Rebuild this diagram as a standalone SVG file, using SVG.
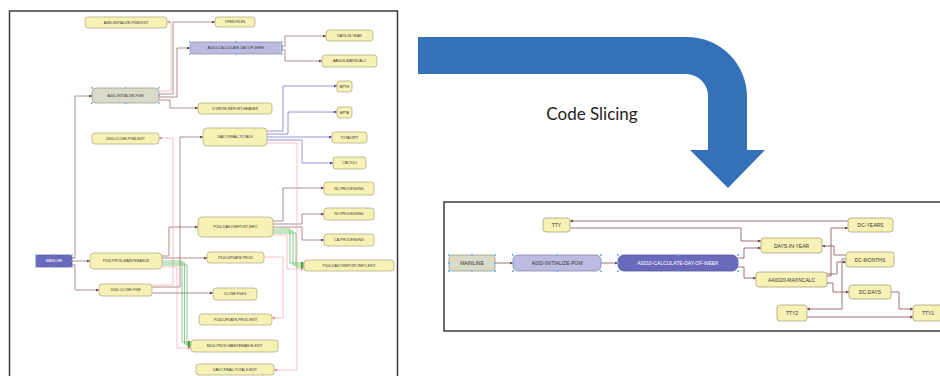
<svg xmlns="http://www.w3.org/2000/svg" width="940" height="376" viewBox="0 0 940 376">
<defs>
<style>
.n rect{fill:#f7f1b6;stroke:#aaa37a;stroke-width:0.7}
.n text,.r text{font-family:"Liberation Sans",Arial,sans-serif;fill:#333;text-anchor:middle;dominant-baseline:central}
.n text{font-size:3.5px}
.r rect{fill:#f7f1b6;stroke:#aaa37a;stroke-width:0.8}
.r text{font-size:5px}
.gray rect{fill:#dadac8;stroke:#9a9a88}
.lav rect{fill:#bcbce3;stroke:#8686ad}
.pur rect{fill:#6a6abd;stroke:#55559a}
.pur text{fill:#fff}
.c path{fill:none;stroke-width:0.65}
#connectors-right path{stroke-width:0.8}
.br{stroke:#86504f;marker-end:url(#ab)}
.pk{stroke:#f3a3ab;marker-end:url(#ap)}
.bl{stroke:#5b5bcf;marker-end:url(#abl)}
.gr{stroke:#4bb04b;marker-end:url(#ag)}
.frame{fill:none;stroke:#3a3a3a;stroke-width:1.5}
.h rect{fill:#6cb6ea}
</style>
<marker id="ab" viewBox="0 0 6 6" refX="6" refY="3" markerWidth="3" markerHeight="3" orient="auto" markerUnits="userSpaceOnUse"><path d="M0,0L6,3L0,6z" fill="#6e3c3c"/></marker>
<marker id="ap" viewBox="0 0 6 6" refX="6" refY="3" markerWidth="3" markerHeight="3" orient="auto" markerUnits="userSpaceOnUse"><path d="M0,0L6,3L0,6z" fill="#e9848e"/></marker>
<marker id="abl" viewBox="0 0 6 6" refX="6" refY="3" markerWidth="3" markerHeight="3" orient="auto" markerUnits="userSpaceOnUse"><path d="M0,0L6,3L0,6z" fill="#4545b8"/></marker>
<marker id="ag" viewBox="0 0 6 6" refX="6" refY="3" markerWidth="3" markerHeight="3" orient="auto" markerUnits="userSpaceOnUse"><path d="M0,0L6,3L0,6z" fill="#339933"/></marker>
</defs>
<rect width="940" height="376" fill="#fff"/>

<!-- frames -->
<rect class="frame" x="9.5" y="11" width="388" height="380"/>
<rect class="frame" x="444" y="202" width="510" height="129" stroke="#555"/>

<!-- big arrow -->
<path d="M418,37 H687 A60,60 0 0 1 747,97 V150 H765 L728,188 L690,150 H708 V96 A22,22 0 0 0 686,74 H418 Z" fill="#3471b8"/>
<text x="592" y="120" font-family="Lato,'Liberation Sans',sans-serif" font-size="17" fill="#222" text-anchor="middle">Code Slicing</text>

<!-- left connectors -->
<g id="connectors-left" class="c">
<path class="br" d="M72,258 H75 V96 H92"/>
<path class="br" d="M72,261 H90"/>
<path class="br" d="M72,265 H75 V290 H99"/>
<path class="br" d="M159,94 H173 V22 H215"/>
<path class="br" d="M159,97 H177 V48 H190"/>
<path class="br" d="M159,100 H170 V108 H198"/>
<path class="br" d="M282,46 H285 V36 H326"/>
<path class="br" d="M282,50 H285 V61 H322"/>
<path class="br" d="M152,287 H180 V137 H203"/>
<path class="br" d="M152,293 H213"/>
<path class="br" d="M162,256 H169 V227 H198"/>
<path class="br" d="M162,258 H207"/>
<path class="br" d="M273,221 H283 V188 H324"/>
<path class="br" d="M273,224 H302 V214 H324"/>
<path class="br" d="M273,227 H302 V240 H324"/>
<path class="pk" d="M159,91 H171 V22 H167"/>
<path class="pk" d="M152,285 H173 V138 H159"/>
<path class="pk" d="M162,267 H177 V348 H191"/>
<path class="pk" d="M264,257 H283 V318 H272"/>
<path class="pk" d="M273,235 H287 V269 H304"/>
<path class="pk" d="M267,143 H297 V370 H274"/>
<path class="bl" d="M267,131 H283 V86 H337"/>
<path class="bl" d="M267,134 H288 V112 H337"/>
<path class="bl" d="M267,137 H332"/>
<path class="bl" d="M267,140 H302 V163 H333"/>
<path class="gr" d="M162,261 H182 V342 H191"/>
<path class="gr" d="M162,263 H184.5 V344 H191"/>
<path class="gr" d="M162,265 H187 V346 H191"/>
<path class="gr" d="M273,229 H290 V263 H304"/>
<path class="gr" d="M273,231 H293 V265 H304"/>
<path class="gr" d="M273,233 H296 V267 H304"/>
</g>

<!-- left nodes -->
<g id="L-a080-exit" class="n"><rect x="85" y="17" width="82" height="11" rx="3"/><text x="126" y="22.5">A080-INITIALIZE-PGM-EXIT</text></g>
<g id="L-open-files" class="n"><rect x="215" y="17" width="40" height="10" rx="3"/><text x="235" y="22">OPEN FILES</text></g>
<g id="L-a0010" class="n lav"><rect x="190" y="42" width="92" height="12" rx="3"/><text x="236" y="48">A0010-CALCULATE-DAY-OF-WEEK</text></g>
<g id="L-days-in-year" class="n"><rect x="326" y="30" width="47" height="11" rx="3"/><text x="349.5" y="35.5">DAYS-IN-YEAR</text></g>
<g id="L-aa0020" class="n"><rect x="322" y="55" width="55" height="12" rx="3"/><text x="349.5" y="61">AA0020-MAXNCALC</text></g>
<g id="L-a000" class="n gray"><rect x="92" y="88" width="67" height="15" rx="4"/><text x="125.5" y="95.5">A000-INITIALIZE-PGM</text></g>
<g id="L-vwrite" class="n"><rect x="198" y="103" width="74" height="11" rx="3"/><text x="235" y="108.5">V-WRITE-REPORT-HEADER</text></g>
<g id="L-bpth" class="n"><rect x="337" y="81" width="15" height="11" rx="2.5"/><text x="344.5" y="86.5">BPTH</text></g>
<g id="L-bpta" class="n"><rect x="337" y="107" width="15" height="11" rx="2.5"/><text x="344.5" y="112.5">BPTA</text></g>
<g id="L-2000-exit" class="n"><rect x="92" y="133" width="67" height="11" rx="3"/><text x="125.5" y="138.5">2000-CLOSE-PGM-EXIT</text></g>
<g id="L-dft" class="n"><rect x="203" y="128" width="64" height="18" rx="4"/><text x="235" y="137">DAILY-FINAL-TOTALS</text></g>
<g id="L-totalrpt" class="n"><rect x="332" y="132" width="35" height="11" rx="3"/><text x="349.5" y="137.5">TOTALRPT</text></g>
<g id="L-cbltoli" class="n"><rect x="333" y="157" width="33" height="12" rx="3"/><text x="349.5" y="163">CBLTOLI</text></g>
<g id="L-nc" class="n"><rect x="324" y="182" width="50" height="13" rx="3"/><text x="349" y="188.5">NC-PROCESSING</text></g>
<g id="L-ny" class="n"><rect x="324" y="208" width="50" height="12" rx="3"/><text x="349" y="214">NY-PROCESSING</text></g>
<g id="L-ca" class="n"><rect x="324" y="234" width="50" height="12" rx="3"/><text x="349" y="240">CA-PROCESSING</text></g>
<g id="L-p100-dri" class="n"><rect x="198" y="217" width="75" height="20" rx="4"/><text x="235.5" y="227">P100-DAILY-REPORT-INFO</text></g>
<g id="L-mainline" class="n pur"><rect x="36" y="255" width="36" height="12" rx="2"/><text x="54" y="261">MAINLINE</text></g>
<g id="L-p100-pm" class="n"><rect x="90" y="253" width="72" height="16" rx="4"/><text x="126" y="261">P100-PROD-MAINTENANCE</text></g>
<g id="L-2000" class="n"><rect x="99" y="284" width="53" height="12" rx="3"/><text x="125.5" y="290">2000-CLOSE-PGM</text></g>
<g id="L-p100-up" class="n"><rect x="207" y="252" width="57" height="11" rx="3"/><text x="235.5" y="257.5">P100-UPDATE-PROD</text></g>
<g id="L-dri-exit" class="n"><rect x="304" y="260" width="90" height="11" rx="3"/><text x="349" y="265.5">P100-DAILY-REPORT-INFO-EXIT</text></g>
<g id="L-close-files" class="n"><rect x="213" y="288" width="44" height="12" rx="3"/><text x="235" y="294">CLOSE FILES</text></g>
<g id="L-up-exit" class="n"><rect x="199" y="314" width="73" height="11" rx="3"/><text x="235.5" y="319.5">P100-UPDATE-PROD-EXIT</text></g>
<g id="L-pm-exit" class="n"><rect x="191" y="340" width="87" height="12" rx="3"/><text x="234.5" y="346">M100-PROD-MAINTENANCE-EXIT</text></g>
<g id="L-dft-exit" class="n"><rect x="196" y="364" width="78" height="11" rx="3"/><text x="235" y="369.5">DAILY-FINAL-TOTALS-EXIT</text></g>

<!-- right connectors -->
<g id="connectors-right" class="c">
<path class="br" d="M495,263 H513"/>
<path class="br" d="M601,263 H618"/>
<path class="br" d="M848,221 H570"/>
<path class="br" d="M570,228 H741 V241 H761"/>
<path class="br" d="M738,258 H744 V248 H761"/>
<path class="br" d="M738,267 H744 V278 H756"/>
<path class="br" d="M827,276 H831 V228 H848"/>
<path class="br" d="M827,274 H837 V262 H846"/>
<path class="br" d="M846,255 H834 V246 H822"/>
<path class="br" d="M846,259 H842 V309 H807"/>
<path class="br" d="M827,283 H833 V292 H849"/>
<path class="br" d="M891,292 H899 V309 H913"/>
<path class="br" d="M807,317 H913"/>
</g>

<!-- right nodes -->
<g id="R-tty" class="r"><rect x="543" y="218" width="27" height="14" rx="3"/><text x="556.5" y="225">TTY</text></g>
<g id="R-mainline" class="r gray"><rect x="449" y="255" width="46" height="16" rx="3"/><text x="472" y="263">MAINLINE</text></g>
<g id="R-a000" class="r lav"><rect x="513" y="255" width="88" height="16" rx="5"/><text x="557" y="263">A000-INITIALIZE-PGM</text></g>
<g id="R-a0010" class="r pur"><rect x="618" y="255" width="120" height="16" rx="6"/><text x="678" y="263">A0010-CALCULATE-DAY-OF-WEEK</text></g>
<g id="R-days-in-year" class="r"><rect x="761" y="238" width="61" height="15" rx="3"/><text x="791.5" y="245.5">DAYS-IN-YEAR</text></g>
<g id="R-aa0020" class="r"><rect x="756" y="272" width="71" height="15" rx="3"/><text x="791.5" y="279.5">AA0020-MAXNCALC</text></g>
<g id="R-dc-years" class="r"><rect x="848" y="218" width="45" height="14" rx="3"/><text x="870.5" y="225">DC-YEARS</text></g>
<g id="R-dc-months" class="r"><rect x="846" y="252" width="48" height="15" rx="3"/><text x="870" y="259.5">DC-MONTHS</text></g>
<g id="R-dc-days" class="r"><rect x="849" y="285" width="42" height="14" rx="3"/><text x="870" y="292">DC-DAYS</text></g>
<g id="R-tty2" class="r"><rect x="777" y="305" width="30" height="16" rx="3"/><text x="792" y="313">TTY2</text></g>
<g id="R-tty1" class="r"><rect x="913" y="305" width="30" height="16" rx="3"/><text x="928" y="313">TTY1</text></g>

<!-- selection handles -->
<g class="h">
<rect x="35" y="254" width="1.6" height="1.6"/><rect x="53.2" y="254" width="1.6" height="1.6"/><rect x="71.2" y="254" width="1.6" height="1.6"/>
<rect x="35" y="260.2" width="1.6" height="1.6"/><rect x="71.2" y="260.2" width="1.6" height="1.6"/>
<rect x="35" y="266.4" width="1.6" height="1.6"/><rect x="53.2" y="266.4" width="1.6" height="1.6"/><rect x="71.2" y="266.4" width="1.6" height="1.6"/>
<rect x="91" y="87" width="1.6" height="1.6"/><rect x="124.7" y="87" width="1.6" height="1.6"/><rect x="158.2" y="87" width="1.6" height="1.6"/>
<rect x="91" y="94.7" width="1.6" height="1.6"/><rect x="158.2" y="94.7" width="1.6" height="1.6"/>
<rect x="91" y="102.4" width="1.6" height="1.6"/><rect x="124.7" y="102.4" width="1.6" height="1.6"/><rect x="158.2" y="102.4" width="1.6" height="1.6"/>
<rect x="189" y="41" width="1.6" height="1.6"/><rect x="235.2" y="41" width="1.6" height="1.6"/><rect x="281.2" y="41" width="1.6" height="1.6"/>
<rect x="189" y="47.2" width="1.6" height="1.6"/><rect x="281.2" y="47.2" width="1.6" height="1.6"/>
<rect x="189" y="53.4" width="1.6" height="1.6"/><rect x="235.2" y="53.4" width="1.6" height="1.6"/><rect x="281.2" y="53.4" width="1.6" height="1.6"/>
<rect x="448" y="254" width="1.8" height="1.8"/><rect x="471.1" y="254" width="1.8" height="1.8"/><rect x="494.2" y="254" width="1.8" height="1.8"/>
<rect x="448" y="262.1" width="1.8" height="1.8"/><rect x="494.2" y="262.1" width="1.8" height="1.8"/>
<rect x="448" y="270.2" width="1.8" height="1.8"/><rect x="471.1" y="270.2" width="1.8" height="1.8"/><rect x="494.2" y="270.2" width="1.8" height="1.8"/>
<rect x="512" y="254" width="1.8" height="1.8"/><rect x="556.1" y="254" width="1.8" height="1.8"/><rect x="600.2" y="254" width="1.8" height="1.8"/>
<rect x="512" y="262.1" width="1.8" height="1.8"/><rect x="600.2" y="262.1" width="1.8" height="1.8"/>
<rect x="512" y="270.2" width="1.8" height="1.8"/><rect x="556.1" y="270.2" width="1.8" height="1.8"/><rect x="600.2" y="270.2" width="1.8" height="1.8"/>
<rect x="617" y="254" width="1.8" height="1.8"/><rect x="677.1" y="254" width="1.8" height="1.8"/><rect x="737.2" y="254" width="1.8" height="1.8"/>
<rect x="617" y="262.1" width="1.8" height="1.8"/><rect x="737.2" y="262.1" width="1.8" height="1.8"/>
<rect x="617" y="270.2" width="1.8" height="1.8"/><rect x="677.1" y="270.2" width="1.8" height="1.8"/><rect x="737.2" y="270.2" width="1.8" height="1.8"/>
</g>
</svg>
